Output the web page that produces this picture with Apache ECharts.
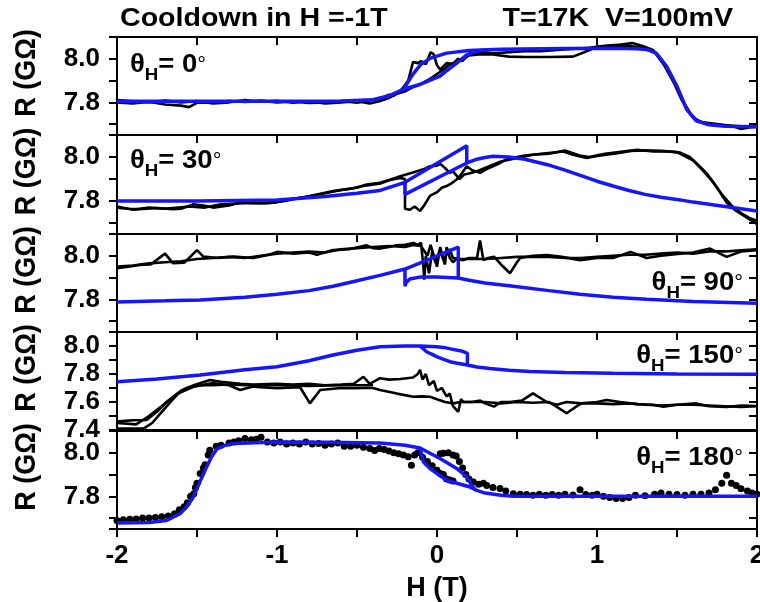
<!DOCTYPE html>
<html>
<head>
<meta charset="utf-8">
<script src="https://cdn.jsdelivr.net/npm/echarts@6/dist/echarts.min.js"></script>
<style>
html, body { margin: 0; padding: 0; background: #fff; }
#main { width: 760px; height: 602px; }
</style>
</head>
<body>
<div id="main"></div>
<script>
// 面板角度与纵轴范围
var angles = [0, 30, 90, 150, 180];
var yMins = [7.65, 7.65, 7.65, 7.4, 7.65];
var yMaxs = [8.1, 8.1, 8.1, 8.1, 8.1];
var xTicks = [-2, -1, 0, 1, 2];

// θH = 0°
var p0Black1 = [[-2,7.80],[-1.9,7.795],[-1.8,7.803],[-1.7,7.79],[-1.6,7.785],[-1.55,7.778],[-1.5,7.798],[-1.4,7.8],[-1.3,7.806],[-1.2,7.802],[-1.1,7.808],[-1.0,7.8],[-0.9,7.804],[-0.8,7.797],[-0.7,7.8],[-0.6,7.806],[-0.5,7.798],[-0.42,7.81],[-0.36,7.815],[-0.3,7.835],[-0.27,7.83],[-0.22,7.86],[-0.18,7.9],[-0.15,7.985],[-0.12,7.98],[-0.1,7.99],[-0.07,7.975],[-0.04,8.03],[-0.02,8.02],[0.0,7.97],[0.02,7.95],[0.06,7.98],[0.1,7.975],[0.13,8.0],[0.16,7.99],[0.2,8.02],[0.25,8.025],[0.3,8.03],[0.35,8.025],[0.45,8.03],[0.55,8.035],[0.65,8.035],[0.75,8.04],[0.85,8.045],[0.95,8.05],[1.05,8.06],[1.15,8.065],[1.22,8.072],[1.28,8.06],[1.35,8.04],[1.4,8.0],[1.45,7.94],[1.5,7.87],[1.55,7.79],[1.6,7.73],[1.65,7.71],[1.75,7.70],[1.85,7.69],[1.9,7.678],[1.95,7.685],[2.0,7.688]];
var p0Black2 = [[-2,7.81],[-1.9,7.805],[-1.8,7.8],[-1.7,7.808],[-1.6,7.8],[-1.5,7.806],[-1.4,7.795],[-1.3,7.8],[-1.2,7.81],[-1.1,7.803],[-1.0,7.807],[-0.9,7.798],[-0.8,7.805],[-0.7,7.795],[-0.6,7.8],[-0.5,7.805],[-0.42,7.795],[-0.36,7.805],[-0.3,7.82],[-0.25,7.84],[-0.2,7.85],[-0.15,7.87],[-0.1,7.885],[-0.05,7.905],[0.0,7.93],[0.04,7.95],[0.08,7.975],[0.12,7.985],[0.16,8.0],[0.2,8.015],[0.26,8.02],[0.35,8.02],[0.45,8.01],[0.55,8.008],[0.7,8.008],[0.85,8.01],[0.92,8.03],[1.0,8.055],[1.1,8.06],[1.2,8.058],[1.3,8.05],[1.36,8.03],[1.42,7.97],[1.48,7.89],[1.53,7.81],[1.58,7.75],[1.63,7.715],[1.7,7.7],[1.8,7.695],[1.9,7.69],[2.0,7.69]];
var p0BlueUp = [[-2,7.805],[-1,7.805],[-0.6,7.806],[-0.4,7.812],[-0.3,7.83],[-0.21,7.86],[-0.15,7.93],[-0.1,7.975],[-0.04,8.003],[0.06,8.026],[0.2,8.038],[0.4,8.044],[0.8,8.047],[1.1,8.048],[1.25,8.046],[1.31,8.043],[1.37,8.026],[1.435,7.965],[1.5,7.874],[1.56,7.768],[1.62,7.715],[1.7,7.697],[1.8,7.69],[2,7.688]];
var p0BlueLoop = [[-0.21,7.86],[-0.106,7.882],[0.019,7.92],[0.06,7.945],[0.123,7.98],[0.186,8.018],[0.25,8.035],[0.3,8.04]];

// θH = 30°
var p30Black1 = [[-2,7.77],[-1.93,7.765],[-1.86,7.763],[-1.75,7.768],[-1.65,7.763],[-1.6,7.765],[-1.52,7.785],[-1.45,7.778],[-1.4,7.77],[-1.3,7.78],[-1.23,7.793],[-1.1,7.79],[-1.0,7.795],[-0.9,7.81],[-0.8,7.82],[-0.7,7.835],[-0.6,7.85],[-0.5,7.86],[-0.44,7.875],[-0.356,7.883],[-0.3,7.895],[-0.23,7.905],[-0.2,7.9],[-0.2,7.765],[-0.17,7.76],[-0.14,7.775],[-0.106,7.755],[-0.08,7.78],[-0.044,7.823],[0.0,7.84],[0.03,7.86],[0.06,7.868],[0.09,7.88],[0.123,7.898],[0.15,7.92],[0.186,7.958],[0.22,7.94],[0.27,7.928],[0.31,7.945],[0.35,7.958],[0.4,7.975],[0.43,7.988],[0.5,8.0],[0.54,8.006],[0.65,8.015],[0.79,8.025],[0.85,8.01],[0.936,7.995],[1.0,8.005],[1.06,8.01],[1.15,8.02],[1.25,8.033],[1.35,8.025],[1.45,8.025],[1.52,8.02],[1.58,8.0],[1.62,7.973],[1.68,7.93],[1.73,7.883],[1.77,7.84],[1.81,7.793],[1.87,7.755],[1.935,7.725],[2,7.695]];
var p30Black2 = [[-2,7.775],[-1.9,7.76],[-1.8,7.77],[-1.7,7.765],[-1.55,7.775],[-1.45,7.77],[-1.35,7.785],[-1.2,7.79],[-1.05,7.79],[-0.95,7.8],[-0.85,7.815],[-0.75,7.83],[-0.65,7.845],[-0.55,7.855],[-0.45,7.87],[-0.35,7.88],[-0.28,7.9],[-0.23,7.913],[-0.15,7.93],[-0.08,7.945],[-0.044,7.958],[0.0,7.96],[0.019,7.97],[0.05,7.95],[0.08,7.928],[0.1,7.935],[0.14,7.9],[0.17,7.92],[0.2,7.925],[0.25,7.935],[0.3,7.95],[0.4,7.98],[0.5,7.995],[0.6,8.01],[0.7,8.015],[0.8,8.03],[0.9,8.005],[0.95,8.0],[1.05,8.015],[1.2,8.028],[1.3,8.03],[1.4,8.028],[1.5,8.022],[1.56,8.0],[1.6,7.985],[1.66,7.94],[1.72,7.89],[1.78,7.83],[1.84,7.78],[1.9,7.745],[1.96,7.72],[2,7.71]];
var p30BlueUp = [[-2,7.8],[-1.5,7.8],[-1.0,7.805],[-0.7,7.82],[-0.5,7.835],[-0.356,7.848],[-0.2,7.885],[0.186,8.051],[0.186,7.973],[0.25,7.99],[0.3,7.998],[0.35,8.003],[0.45,8.0],[0.55,7.99],[0.69,7.965],[0.8,7.94],[0.9,7.915],[1.0,7.89],[1.1,7.868],[1.2,7.848],[1.3,7.83],[1.4,7.817],[1.52,7.805],[1.6,7.795],[1.7,7.785],[1.8,7.775],[1.9,7.765],[2.0,7.755]];
var p30BlueLoop = [[0.186,7.973],[-0.2,7.83],[-0.2,7.885]];

// θH = 90°
var p90Black1 = [[-2,7.943],[-1.93,7.95],[-1.86,7.958],[-1.79,7.96],[-1.7,8.01],[-1.65,7.966],[-1.58,7.968],[-1.5,8.026],[-1.46,7.996],[-1.37,7.99],[-1.27,7.996],[-1.15,7.99],[-1.05,8.005],[-1.0,8.018],[-0.9,8.01],[-0.8,8.015],[-0.75,8.005],[-0.65,8.026],[-0.55,8.03],[-0.44,8.048],[-0.4,8.035],[-0.356,8.033],[-0.3,8.04],[-0.252,8.048],[-0.2,8.05],[-0.148,8.059],[-0.12,8.05],[-0.1,8.06],[-0.085,7.95],[-0.08,7.89],[-0.07,8.0],[-0.05,7.92],[-0.03,8.02],[-0.01,7.97],[0.02,8.03],[0.05,7.96],[0.06,8.04],[0.08,7.99],[0.1,7.97],[0.12,7.985],[0.165,7.98],[0.2,7.99],[0.25,7.99],[0.269,8.07],[0.29,7.98],[0.32,7.99],[0.356,7.996],[0.4,7.96],[0.456,7.92],[0.5,7.97],[0.52,7.99],[0.6,8.0],[0.686,8.003],[0.78,7.995],[0.894,7.98],[1.0,7.99],[1.1,7.99],[1.21,8.018],[1.31,7.99],[1.4,8.0],[1.52,8.01],[1.6,8.015],[1.706,8.033],[1.81,7.995],[1.9,8.02],[2,8.026]];
var p90Black2 = [[-2,7.95],[-1.9,7.955],[-1.8,7.965],[-1.7,7.97],[-1.6,7.975],[-1.5,7.985],[-1.4,7.99],[-1.3,7.995],[-1.2,7.99],[-1.1,8.0],[-1.0,8.01],[-0.9,8.015],[-0.8,8.02],[-0.7,8.015],[-0.6,8.03],[-0.5,8.035],[-0.4,8.04],[-0.3,8.045],[-0.2,8.04],[-0.15,8.05],[-0.1,8.045],[-0.06,8.0],[-0.04,8.05],[0.0,7.95],[0.02,8.04],[0.04,7.98],[0.08,8.03],[0.1,7.99],[0.15,7.985],[0.2,7.985],[0.3,7.985],[0.4,7.99],[0.5,7.995],[0.6,7.995],[0.7,7.995],[0.8,7.99],[0.9,7.99],[1.0,7.995],[1.1,8.0],[1.2,8.005],[1.3,8.005],[1.4,8.01],[1.5,8.015],[1.6,8.01],[1.7,8.02],[1.8,8.02],[1.9,8.025],[2,8.03]];
var p90BlueUp = [[-2,7.788],[-1.7,7.793],[-1.48,7.797],[-1.2,7.81],[-1.0,7.823],[-0.8,7.84],[-0.65,7.86],[-0.5,7.885],[-0.356,7.91],[-0.2,7.939],[-0.05,7.984],[0.05,8.015],[0.133,8.04],[0.133,7.898],[0.2,7.888],[0.3,7.875],[0.477,7.86],[0.7,7.84],[0.894,7.823],[1.1,7.81],[1.31,7.8],[1.6,7.79],[2.0,7.782]];
var p90BlueLoop = [[0.133,7.898],[0.0,7.902],[-0.1,7.903],[-0.17,7.893],[-0.195,7.875],[-0.2,7.86],[-0.2,7.939]];

// θH = 150°
var p150Black1 = [[-2,7.46],[-1.95,7.465],[-1.9,7.47],[-1.815,7.471],[-1.75,7.53],[-1.69,7.6],[-1.606,7.675],[-1.565,7.7],[-1.52,7.72],[-1.42,7.757],[-1.35,7.745],[-1.23,7.73],[-1.15,7.725],[-1.0,7.73],[-0.9,7.725],[-0.8,7.73],[-0.7,7.72],[-0.6,7.725],[-0.52,7.73],[-0.46,7.78],[-0.42,7.73],[-0.356,7.77],[-0.3,7.76],[-0.23,7.764],[-0.15,7.775],[-0.12,7.8],[-0.106,7.83],[-0.09,7.76],[-0.07,7.8],[-0.05,7.72],[-0.02,7.75],[0.0,7.68],[0.03,7.7],[0.06,7.64],[0.08,7.66],[0.1,7.57],[0.133,7.53],[0.15,7.62],[0.165,7.6],[0.22,7.6],[0.27,7.61],[0.3,7.59],[0.356,7.567],[0.4,7.6],[0.456,7.6],[0.53,7.61],[0.6,7.662],[0.686,7.6],[0.75,7.58],[0.81,7.6],[0.9,7.59],[1.0,7.6],[1.06,7.614],[1.144,7.6],[1.25,7.585],[1.35,7.58],[1.415,7.567],[1.5,7.58],[1.62,7.59],[1.7,7.57],[1.81,7.564],[1.9,7.575],[2,7.571]];
var p150Black2 = [[-2,7.41],[-1.9,7.41],[-1.835,7.41],[-1.78,7.45],[-1.72,7.53],[-1.65,7.62],[-1.6,7.68],[-1.52,7.71],[-1.4,7.735],[-1.3,7.72],[-1.23,7.686],[-1.15,7.71],[-1.0,7.698],[-0.856,7.705],[-0.794,7.59],[-0.73,7.686],[-0.6,7.7],[-0.52,7.698],[-0.45,7.7],[-0.4,7.7],[-0.356,7.686],[-0.25,7.66],[-0.148,7.638],[-0.1,7.64],[-0.044,7.638],[0.0,7.62],[0.05,7.6],[0.1,7.59],[0.15,7.6],[0.2,7.6],[0.3,7.6],[0.4,7.59],[0.5,7.6],[0.6,7.595],[0.7,7.6],[0.81,7.52],[0.9,7.59],[1.0,7.59],[1.1,7.585],[1.2,7.59],[1.3,7.58],[1.4,7.575],[1.5,7.58],[1.6,7.58],[1.7,7.575],[1.8,7.57],[1.9,7.565],[2,7.57]];
var p150Black3 = [[-2,7.45],[-1.88,7.44],[-1.8,7.5],[-1.7,7.59],[-1.62,7.66],[-1.5,7.72],[-1.4,7.72],[-1.3,7.725],[-1.2,7.72],[-1.0,7.72],[-0.8,7.715],[-0.6,7.72],[-0.4,7.72]];
var p150BlueUp = [[-2,7.745],[-1.75,7.765],[-1.48,7.793],[-1.2,7.83],[-1,7.852],[-0.8,7.895],[-0.65,7.936],[-0.5,7.97],[-0.356,7.995],[-0.2,8.0],[-0.106,8.0],[0.0,7.995],[0.04,7.99],[0.1,7.976],[0.16,7.962],[0.19,7.948],[0.19,7.864],[0.25,7.85],[0.33,7.84],[0.45,7.826],[0.58,7.817],[0.8,7.81],[1.1,7.805],[1.5,7.8],[2,7.798]];
var p150BlueLoop = [[0.19,7.864],[0.12,7.878],[0.081,7.888],[0.03,7.91],[-0.002,7.924],[-0.04,7.945],[-0.065,7.959],[-0.09,7.985],[-0.106,8.0]];

// θH = 180°
var p180Dots = [[-2,7.689],[-1.96,7.692],[-1.92,7.695],[-1.88,7.696],[-1.84,7.7],[-1.8,7.7],[-1.76,7.703],[-1.72,7.706],[-1.68,7.71],[-1.64,7.72],[-1.61,7.738],[-1.58,7.752],[-1.56,7.77],[-1.54,7.8],[-1.52,7.812],[-1.51,7.84],[-1.5,7.86],[-1.48,7.905],[-1.46,7.93],[-1.45,7.945],[-1.43,7.99],[-1.42,8.012],[-1.38,8.03],[-1.35,8.035],[-1.3,8.045],[-1.27,8.05],[-1.24,8.055],[-1.2,8.066],[-1.16,8.06],[-1.13,8.062],[-1.1,8.071],[-1.06,8.05],[-1.02,8.045],[-0.98,8.05],[-0.94,8.04],[-0.9,8.045],[-0.86,8.04],[-0.82,8.05],[-0.78,8.04],[-0.74,8.043],[-0.7,8.035],[-0.66,8.04],[-0.62,8.045],[-0.58,8.03],[-0.54,8.03],[-0.5,8.035],[-0.46,8.025],[-0.42,8.02],[-0.39,8.01],[-0.36,8.02],[-0.33,8.015],[-0.3,8.008],[-0.27,8.0],[-0.24,7.995],[-0.21,7.99],[-0.18,7.982],[-0.16,7.943],[-0.14,7.99],[-0.12,8.0],[-0.09,7.98],[-0.06,7.96],[-0.03,7.94],[0.0,7.92],[0.02,7.905],[0.04,7.9],[0.06,7.88],[0.08,7.875],[0.1,7.87],[0.02,7.995],[0.04,7.998],[0.07,8.0],[0.1,7.99],[0.12,7.985],[0.14,7.96],[0.16,7.93],[0.18,7.9],[0.2,7.88],[0.227,7.866],[0.26,7.855],[0.29,7.86],[0.311,7.85],[0.35,7.84],[0.394,7.836],[0.43,7.825],[0.477,7.812],[0.52,7.81],[0.56,7.808],[0.6,7.805],[0.64,7.81],[0.68,7.805],[0.72,7.808],[0.76,7.805],[0.8,7.81],[0.85,7.806],[0.894,7.83],[0.93,7.808],[0.97,7.805],[1.0,7.81],[1.04,7.8],[1.08,7.795],[1.12,7.79],[1.16,7.79],[1.2,7.795],[1.24,7.805],[1.3,7.803],[1.36,7.81],[1.4,7.815],[1.45,7.81],[1.5,7.808],[1.55,7.805],[1.6,7.81],[1.65,7.81],[1.7,7.815],[1.74,7.83],[1.78,7.86],[1.81,7.897],[1.84,7.86],[1.87,7.85],[1.9,7.835],[1.94,7.825],[1.97,7.815],[2,7.81]];
var p180BlueUp = [[-2,7.677],[-1.8,7.68],[-1.69,7.689],[-1.606,7.72],[-1.56,7.755],[-1.523,7.797],[-1.48,7.87],[-1.44,7.935],[-1.41,7.98],[-1.377,8.016],[-1.33,8.033],[-1.27,8.043],[-1.0,8.05],[-0.7,8.048],[-0.356,8.045],[-0.2,8.035],[-0.106,8.022],[0.019,7.974],[0.123,7.928],[0.186,7.89],[0.217,7.85],[0.24,7.83],[0.3,7.815],[0.4,7.805],[0.477,7.8],[1,7.8],[2,7.8]];
var p180BlueLoop = [[-0.106,8.022],[-0.085,7.958],[-0.044,7.928],[0.06,7.874],[0.206,7.843],[0.24,7.83]];

var panelBlack = [[p0Black1, p0Black2], [p30Black1, p30Black2], [p90Black1, p90Black2], [p150Black1, p150Black2, p150Black3], []];
var panelBlue = [[p0BlueUp, p0BlueLoop], [p30BlueUp, p30BlueLoop], [p90BlueUp, p90BlueLoop], [p150BlueUp, p150BlueLoop], [p180BlueUp, p180BlueLoop]];

var FONT = 'Liberation Sans, Arial, sans-serif';
var gridTops = [37, 135, 234, 332, 431];
var gridHeights = [98, 99, 98, 98, 98];
var blueColor = '#1515ff';

var chart = echarts.init(document.getElementById('main'), null, { renderer: 'canvas' });

var grids = [], xAxes = [], yAxes = [], series = [], graphics = [];
var tickStyle = { color: '#000', width: 2 };

for (var i = 0; i < 5; i++) {
	grids.push({
		left: 117, width: 640, top: gridTops[i], height: gridHeights[i],
		outerBoundsMode: 'none', containLabel: false,
		show: true, borderColor: '#000', borderWidth: 2, backgroundColor: 'rgba(0,0,0,0)'
	});
	// 顶部刻度（向内）
	xAxes.push({
		gridIndex: i, type: 'value', min: -2, max: 2, interval: 0.5, position: 'top',
		axisLine: { show: false, onZero: false }, splitLine: { show: false }, axisLabel: { show: false },
		axisTick: { show: true, inside: true, length: 8, lineStyle: tickStyle }
	});
	var yBase = {
		gridIndex: i, type: 'value', min: yMins[i], max: yMaxs[i], splitNumber: 5,
		axisLine: { show: false, onZero: false }, splitLine: { show: false }
	};
	if (yMins[i] === 7.4) yBase.interval = 0.1;
	yAxes.push(Object.assign({}, yBase, {
		position: 'left',
		axisTick: { show: true, inside: false, length: 8, lineStyle: tickStyle },
		axisLabel: {
			margin: 17, fontSize: 26, fontWeight: 'bold', color: '#000', fontFamily: FONT,
			showMinLabel: true, showMaxLabel: true,
			formatter: function (v) {
				var t = Math.round(v * 100);
				return (t % 20 === 0) ? (t / 100).toFixed(1) : '';
			}
		}
	}));
	yAxes.push(Object.assign({}, yBase, {
		position: 'right',
		axisTick: { show: true, inside: true, length: 8, lineStyle: tickStyle },
		axisLabel: { show: false }
	}));

	panelBlack[i].forEach(function (d) {
		series.push({
			type: 'line', xAxisIndex: i, yAxisIndex: 2 * i, data: d, symbol: 'none',
			lineStyle: { color: '#000', width: 2.6 }, silent: true
		});
	});
	if (i === 4) {
		series.push({
			type: 'scatter', xAxisIndex: i, yAxisIndex: 2 * i, data: p180Dots,
			symbol: 'circle', symbolSize: 7, itemStyle: { color: '#000', opacity: 1 }, silent: true
		});
	}
	panelBlue[i].forEach(function (d) {
		series.push({
			type: 'line', xAxisIndex: i, yAxisIndex: 2 * i, data: d, symbol: 'none',
			lineStyle: { color: blueColor, width: 3.5 }, silent: true
		});
	});

	// 纵轴标题 R (GΩ)，旋转并横向拉伸
	graphics.push({
		type: 'text', x: 26.5, y: gridTops[i] + gridHeights[i] / 2 - 13,
		rotation: Math.PI / 2, scaleY: 1.1, silent: true,
		style: { text: 'R (GΩ)', font: 'bold 27px ' + FONT, fill: '#000', align: 'center', verticalAlign: 'middle' }
	});
}

// 底部 H 轴
xAxes.push({
	gridIndex: 4, type: 'value', min: -2, max: 2, interval: 0.5, position: 'bottom',
	axisLine: { show: false, onZero: false }, splitLine: { show: false },
	axisTick: { show: true, inside: false, length: 8, lineStyle: tickStyle },
	axisLabel: {
		margin: 14, fontSize: 26, fontWeight: 'bold', color: '#000', fontFamily: FONT,
		showMinLabel: true, showMaxLabel: true,
		formatter: function (v) { return xTicks.indexOf(v) >= 0 ? String(v) : ''; }
	},
	name: 'H (T)', nameLocation: 'middle', nameGap: 46, nameMoveOverlap: false,
	nameTextStyle: { fontSize: 27, fontWeight: 'bold', color: '#000', fontFamily: FONT }
});

// 标题文字（横向略拉伸）
var headFont = 'bold 26px ' + FONT;
graphics.push({ type: 'text', x: 120, y: 19, scaleX: 1.1, silent: true,
	style: { text: 'Cooldown in H =-1T', font: headFont, fill: '#000', align: 'left', verticalAlign: 'middle' } });
graphics.push({ type: 'text', x: 733, y: 19, scaleX: 1.1, silent: true,
	style: { text: 'T=17K  V=100mV', font: headFont, fill: '#000', align: 'right', verticalAlign: 'middle' } });

var thetaRich = {
	t: { fontSize: 25, fontWeight: 'bold', fill: '#000', color: '#000', fontFamily: FONT, lineHeight: 38 },
	s: { fontSize: 17, fontWeight: 'bold', fill: '#000', color: '#000', fontFamily: FONT, lineHeight: 17, verticalAlign: 'bottom' },
	d: { fontSize: 20, fontWeight: 'normal', fill: '#000', color: '#000', fontFamily: FONT, lineHeight: 38 }
};
var thetaPos = [[130, 65, 'left'], [130, 161, 'left'], [743, 283, 'right'], [743, 356, 'right'], [743, 458, 'right']];
for (var k = 0; k < 5; k++) {
	graphics.push({
		type: 'text', x: thetaPos[k][0], y: thetaPos[k][1], scaleX: 1.1, silent: true,
		style: {
			text: '{t|θ}{s|H}{t|= ' + angles[k] + '}{d|°}', rich: thetaRich,
			font: 'bold 25px ' + FONT, fill: '#000',
			align: thetaPos[k][2], verticalAlign: 'middle'
		}
	});
}

chart.setOption({
	animation: false,
	backgroundColor: '#fff',
	grid: grids,
	xAxis: xAxes,
	yAxis: yAxes,
	series: series,
	graphic: graphics
});
</script>
</body>
</html>
